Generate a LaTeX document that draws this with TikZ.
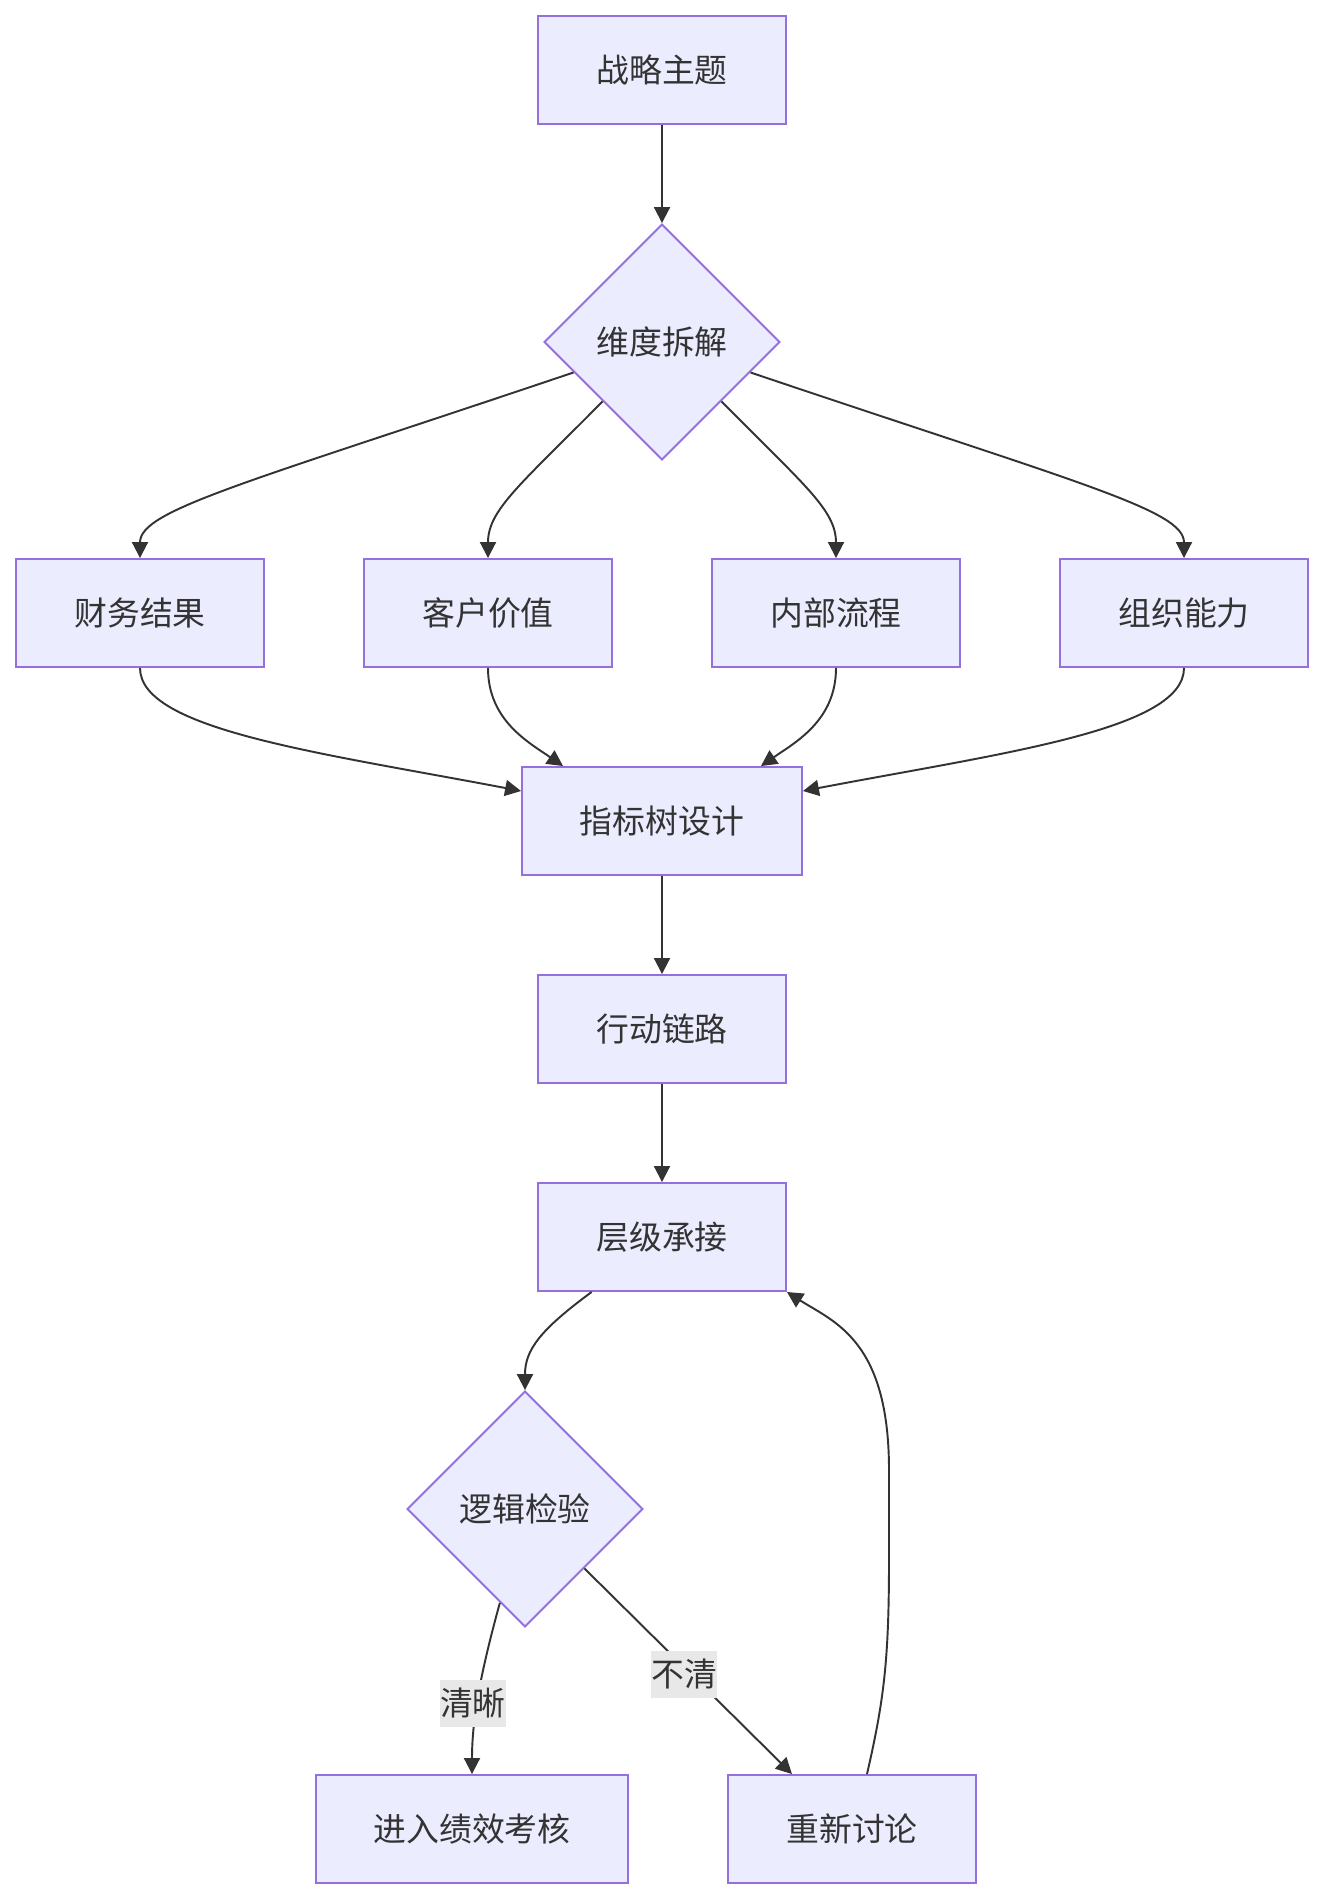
\documentclass[tikz,border=0pt]{standalone}
\usepackage{fontspec}
\setmainfont{Noto Sans CJK SC}
\usetikzlibrary{shapes.geometric,arrows.meta,calc}
\definecolor{nodefill}{HTML}{ECECFF}
\definecolor{nodeline}{HTML}{9370DB}
\definecolor{edgecol}{HTML}{333333}
\definecolor{lblfill}{HTML}{E8E8E8}
\begin{document}
\begin{tikzpicture}[x=0.02cm,y=-0.02cm,
  txt/.style={text=edgecol, font=\fontsize{18.7pt}{22pt}\selectfont},
  box/.style={txt, draw=nodeline, fill=nodefill, line width=1.1pt, inner xsep=0pt, inner ysep=0pt, minimum height=2.16cm},
  dia/.style={txt, diamond, draw=nodeline, fill=nodefill, line width=1.1pt, minimum width=4.72cm, minimum height=4.72cm, inner sep=0pt},
  edge/.style={draw=edgecol, line width=1.1pt, -{Triangle[length=0.32cm,width=0.32cm]}},
  lbl/.style={txt, fill=lblfill, inner xsep=0pt, inner ysep=0pt, minimum height=0.94cm}
]
\useasboundingbox[fill=white] (0,0) rectangle (1324,1900);

\node[box, minimum width=4.96cm] (top) at (662,70) {战略主题};
\node[dia] (dim) at (662,342) {维度拆解};
\node[box, minimum width=4.96cm] (fin) at (140,613) {财务结果};
\node[box, minimum width=4.96cm] (cus) at (488,613) {客户价值};
\node[box, minimum width=4.96cm] (int) at (836,613) {内部流程};
\node[box, minimum width=4.96cm] (org) at (1184,613) {组织能力};
\node[box, minimum width=5.6cm] (kpi) at (662,821) {指标树设计};
\node[box, minimum width=4.96cm] (act) at (662,1029) {行动链路};
\node[box, minimum width=4.96cm] (lvl) at (662,1237) {层级承接};
\node[dia] (chk) at (525,1509) {逻辑检验};
\node[box, minimum width=6.24cm] (pass) at (472,1829) {进入绩效考核};
\node[box, minimum width=4.96cm] (disc) at (852,1829) {重新讨论};

\draw[edge] (top.south) -- (dim.north);
\draw[edge] (dim.199) .. controls (243,484) and (140,510) .. (fin.north);
\draw[edge] (dim.south west) .. controls (520,485) and (488,510) .. (cus.north);
\draw[edge] (dim.south east) .. controls (804,485) and (836,510) .. (int.north);
\draw[edge] (dim.-19) .. controls (1081,484) and (1184,510) .. (org.north);

\draw[edge] (fin.south) .. controls (140,730) and (322,753) .. ($(kpi.west)+(0,-30)$);
\draw[edge] (cus.south) .. controls (488,720) and (528,742) .. ($(kpi.north west)+(42,0)$);
\draw[edge] (int.south) .. controls (836,720) and (796,742) .. ($(kpi.north east)+(-42,0)$);
\draw[edge] (org.south) .. controls (1184,730) and (1002,753) .. ($(kpi.east)+(0,-30)$);

\draw[edge] (kpi.south) -- (act.north);
\draw[edge] (act.south) -- (lvl.north);
\draw[edge] (lvl.218) .. controls (540,1330) and (525,1350) .. (chk.north);

\draw[edge] (chk.255) .. controls (480,1675) and (472,1720) .. node[lbl, pos=0.52, xshift=-0.1cm, yshift=-0.1cm] (l1) {清晰} (pass.north);
\draw[edge] (chk.south east) -- node[lbl, pos=0.5, xshift=-0.08cm, yshift=-0.06cm] (l2) {不清} ($(disc.north)+(-60,0)$);
\draw[edge] ($(disc.north)+(15,0)$) .. controls (884,1700) and (889,1660) .. (889,1560) -- (889,1470) .. controls (889,1340) and (834,1322) .. (lvl.south east);
\end{tikzpicture}
\end{document}
